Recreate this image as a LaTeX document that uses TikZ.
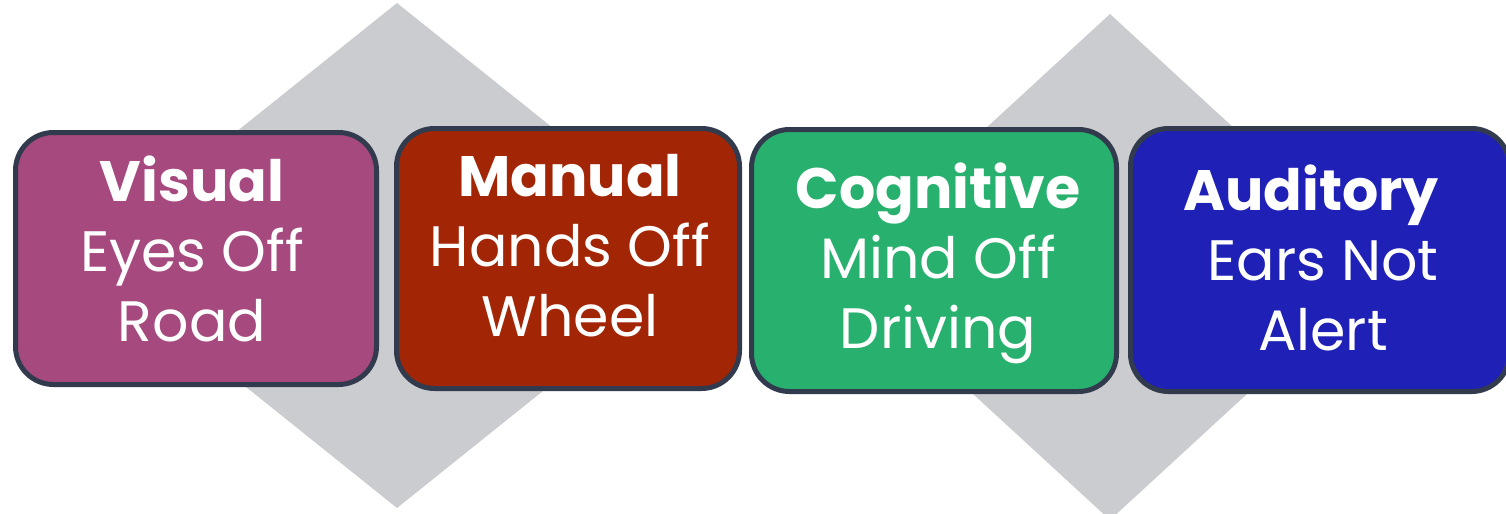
\documentclass[tikz,border=0pt]{standalone}
\usepackage{fontspec}
\setmainfont{Poppins}
\usepackage{tikz}
\usetikzlibrary{positioning}

\definecolor{visualc}{HTML}{A6497E}
\definecolor{manualc}{HTML}{A22506}
\definecolor{cognitc}{HTML}{27B06E}
\definecolor{auditc}{HTML}{1E20B6}
\definecolor{edgec}{HTML}{323A4D}
\definecolor{rhombc}{HTML}{CBCCCF}

\begin{document}
\begin{tikzpicture}[x=0.5pt, y=-0.5pt]

    \tikzstyle{card} = [rectangle, rounded corners=19pt, draw=edgec, line width=2.5pt, inner sep=0pt]
    \tikzstyle{cardtxt} = [text=white, align=center, inner sep=0pt, font=\fontsize{28.5}{35}\selectfont]
    \tikzstyle{rhomb} = [fill=rhombc]

    \useasboundingbox (0,0) rectangle (1506,514);

    % grey diamonds behind the cards
    \fill [rhomb] (397,3) -- (712,255.5) -- (397,508) -- (82,255.5) -- cycle;
    \fill [rhomb] (1110,14) -- (1385,267) -- (1110,520) -- (835,267) -- cycle;

    \node (visual)    [card, fill=visualc, minimum width=180.5pt, minimum height=126pt]  at (196,258.5)  {};
    \node (manual)    [card, fill=manualc, minimum width=171.5pt, minimum height=130pt]  at (568,258.5)  {};
    \node (cognitive) [card, fill=cognitc, minimum width=182.5pt, minimum height=131pt]  at (934,260.5)  {};
    \node (auditory)  [card, fill=auditc,  minimum width=189.5pt, minimum height=131.5pt] at (1320,260)  {};

    \node (visualtxt)    [cardtxt, xshift=-2pt,  yshift=4.75pt] at (visual)    {\textbf{Visual}\\Eyes Off\\Road};
    \node (manualtxt)    [cardtxt, xshift=1pt,   yshift=6.4pt]  at (manual)    {\textbf{Manual}\\Hands Off\\Wheel};
    \node (cognitivetxt) [cardtxt, xshift=2pt,   yshift=-1.4pt] at (cognitive) {\textbf{Cognitive}\\Mind Off\\Driving};
    \node (auditorytxt)  [cardtxt, xshift=1.5pt, yshift=0.8pt]  at (auditory)  {\textbf{Auditory}\hspace*{12pt}\\Ears Not\\Alert};

\end{tikzpicture}
\end{document}
